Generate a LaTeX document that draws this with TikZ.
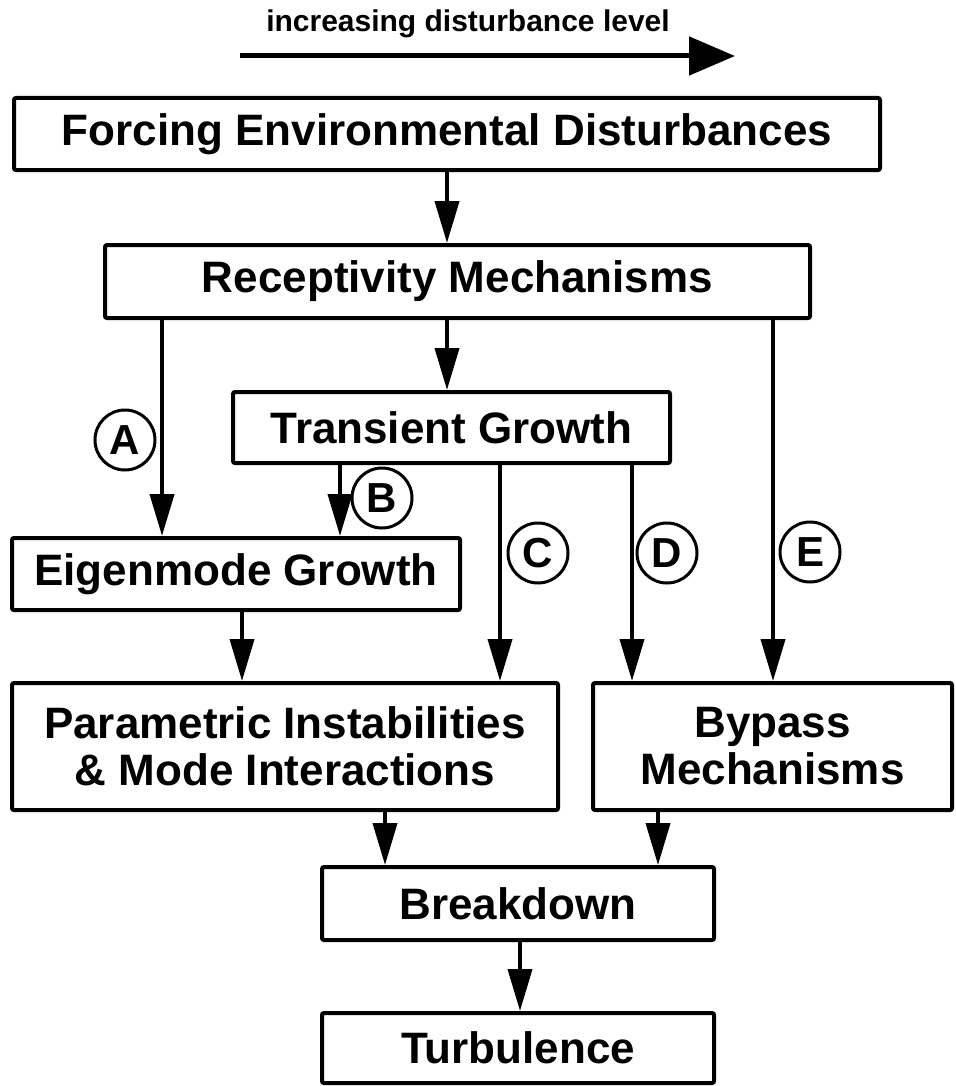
\documentclass[tikz,border=0pt]{standalone}
\usepackage{fontspec}
\setmainfont{Liberation Sans}
\usetikzlibrary{arrows.meta}
\begin{document}
\begin{tikzpicture}[x=0.5pt,y=-0.5pt,
  box/.style={draw,line width=2pt,inner sep=0pt,align=center,rounded corners=1pt,
    font=\fontsize{22}{23.5}\selectfont\bfseries},
  flow/.style={line width=2pt,-{Triangle[length=21pt,width=12pt]}},
  tag/.style={draw,circle,line width=1.5pt,minimum size=30pt,inner sep=0pt,
    font=\fontsize{21}{21}\selectfont\bfseries}]
\useasboundingbox (0,0) rectangle (955,1086);
% disturbance scale
\node[font=\fontsize{15}{15}\selectfont\bfseries,anchor=base] (lvl) at (468,32) {increasing disturbance level};
\coordinate (lvlL) at (240,56);
\coordinate (lvlR) at (735,56);
\draw[line width=2.5pt,-{Triangle[length=23pt,width=19pt]}] (lvlL) -- (lvlR);
% boxes
\node[box,minimum width=433pt,minimum height=36pt] (force) at (447,134) {Forcing Environmental Disturbances};
\node[box,minimum width=352.5pt,minimum height=36.5pt] (recep) at (457.5,281.5) {Receptivity Mechanisms};
\node[box,minimum width=218.5pt,minimum height=35.5pt] (trans) at (451.5,427.5) {Transient Growth};
\node[box,minimum width=224pt,minimum height=36pt] (eigen) at (236,574) {Eigenmode Growth};
\node[box,minimum width=273pt,minimum height=63.5pt] (param) at (285,746.5) {Parametric Instabilities\\\& Mode Interactions};
\node[box,minimum width=179.5pt,minimum height=63.5pt] (bypass) at (772.5,746.5) {Bypass\\Mechanisms};
\node[box,minimum width=196pt,minimum height=36.5pt] (brk) at (518,903.5) {Breakdown};
\node[box,minimum width=196pt,minimum height=35pt] (turb) at (518,1048) {Turbulence};
% columns of the paths
\coordinate (colM) at (447,0);
\coordinate (colA) at (162,0);
\coordinate (colB) at (340,0);
\coordinate (colC) at (500,0);
\coordinate (colD) at (632,0);
\coordinate (colE) at (773,0);
\coordinate (colP) at (242,0);
\coordinate (colQ) at (385,0);
\coordinate (colR) at (658,0);
\coordinate (colT) at (520,0);
% connectors
\draw[flow] (colM |- force.south) -- (colM |- recep.north);
\draw[flow] (colM |- recep.south) -- (colM |- trans.north);
\draw[flow] (colA |- recep.south) -- (colA |- eigen.north);
\draw[flow] (colB |- trans.south) -- (colB |- eigen.north);
\draw[flow] (colC |- trans.south) -- (colC |- param.north);
\draw[flow] (colD |- trans.south) -- (colD |- bypass.north);
\draw[flow] (colE |- recep.south) -- (colE |- bypass.north);
\draw[flow] (colP |- eigen.south) -- (colP |- param.north);
\draw[flow] (colQ |- param.south) -- (colQ |- brk.north);
\draw[flow] (colR |- bypass.south) -- (colR |- brk.north);
\draw[flow] (colT |- brk.south) -- (colT |- turb.north);
% path letters
\node[tag] (tagA) at (125,440) {A};
\node[tag] (tagB) at (382,498) {B};
\node[tag] (tagC) at (538,553) {C};
\node[tag] (tagD) at (667,553) {D};
\node[tag] (tagE) at (810,552) {E};
\end{tikzpicture}
\end{document}
